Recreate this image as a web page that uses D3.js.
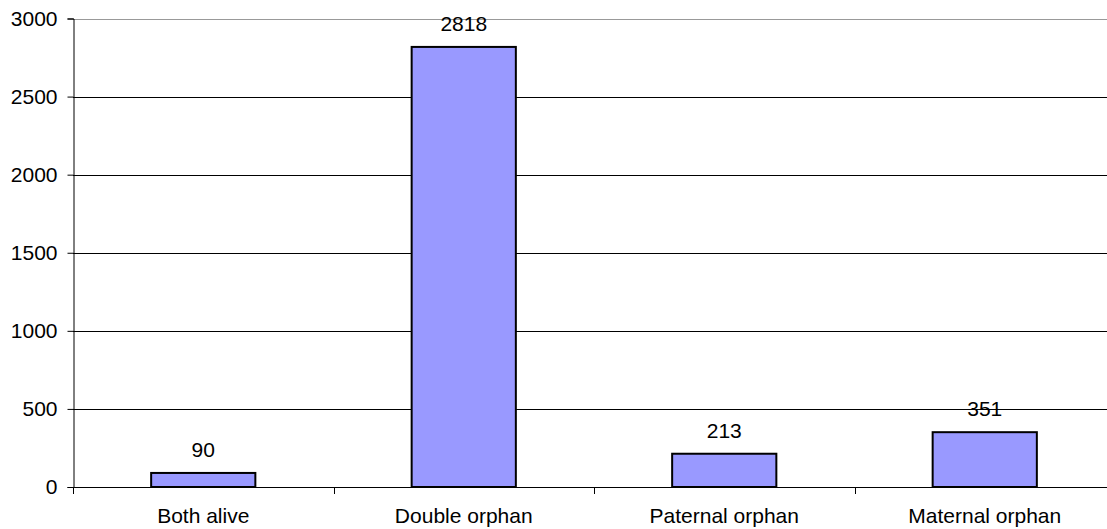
<!DOCTYPE html>
<html><head><meta charset="utf-8">
<script src="https://cdn.jsdelivr.net/npm/d3@7"></script>
<style>body{margin:0;background:#fff}svg{display:block}text{font-family:"Liberation Sans",Arial,sans-serif;fill:#000}</style>
</head><body>
<svg id="c" width="1107" height="529"></svg>
<script>
const categories = ["Both alive","Double orphan","Paternal orphan","Maternal orphan"];
const values = [90, 2818, 213, 351];
const yTicks = [0,500,1000,1500,2000,2500,3000];

const svg = d3.select("#c");
const x = d3.scaleBand().domain(categories).range([73, 1115]).paddingInner(0).paddingOuter(0);
const y = d3.scaleLinear().domain([0,3000]).range([487, 18.5]);
const FS = 21;

// gridlines
svg.append("g").selectAll("line").data(yTicks.filter(d=>d>0)).join("line")
  .attr("x1",73).attr("x2",1115)
  .attr("y1",d=>Math.round(y(d))+0.5).attr("y2",d=>Math.round(y(d))+0.5)
  .attr("stroke",d=>d===3000?"#999":"#000").attr("stroke-width",1);

// bars
const bw = x.bandwidth()*0.4;
svg.append("g").selectAll("rect").data(values).join("rect")
  .attr("x",(d,i)=>x(categories[i])+x.bandwidth()/2-bw/2)
  .attr("y",d=>y(d))
  .attr("width",bw)
  .attr("height",d=>y(0)-y(d))
  .attr("fill","#9999FF").attr("stroke","#000").attr("stroke-width",2);

// value labels
svg.append("g").selectAll("text").data(values).join("text")
  .attr("x",(d,i)=>x(categories[i])+x.bandwidth()/2)
  .attr("y",d=>y(d)-16)
  .attr("text-anchor","middle").attr("font-size",FS).text(d=>d);

// y axis
const ya = svg.append("g").attr("transform","translate(73.5,0)")
  .call(d3.axisLeft(y).tickValues(yTicks).tickSize(6).tickPadding(10).tickFormat(d3.format("d")));
ya.selectAll("text").attr("font-size",FS).attr("font-family","Liberation Sans, Arial, sans-serif");
ya.select(".domain").attr("stroke","#000");

// x axis
const xa = svg.append("g").attr("transform","translate(0,487.5)")
  .call(d3.axisBottom(x).tickSize(0).tickPadding(21));
xa.selectAll("text").attr("font-size",FS).attr("font-family","Liberation Sans, Arial, sans-serif");
xa.select(".domain").remove();
svg.append("line").attr("x1",73).attr("x2",1115).attr("y1",487.5).attr("y2",487.5).attr("stroke","#000");
// category boundary ticks
svg.append("g").selectAll("line").data(categories).join("line")
  .attr("x1",d=>Math.round(x(d))+0.5).attr("x2",d=>Math.round(x(d))+0.5)
  .attr("y1",487).attr("y2",494).attr("stroke","#000");
</script>
</body></html>
